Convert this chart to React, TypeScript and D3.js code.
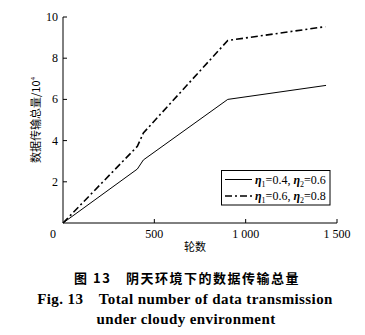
import React from "react";
import * as d3 from "d3";

const xTicks = [0, 500, 1000, 1500];
const yTicks = [0, 2, 4, 6, 8, 10];
const seriesA = [
  { x: 0, y: 0 },
  { x: 407, y: 2.62 },
  { x: 440, y: 3.06 },
  { x: 902, y: 6.0 },
  { x: 1440, y: 6.68 },
];
const seriesB = [
  { x: 0, y: 0 },
  { x: 407, y: 3.72 },
  { x: 440, y: 4.37 },
  { x: 902, y: 8.86 },
  { x: 1436, y: 9.53 },
];
const legendA = ["0.4", "0.6"];
const legendB = ["0.6", "0.8"];

export default function App() {
  const W = 365, H = 335;
  const x = d3.scaleLinear().domain([0, 1500]).range([63, 337]);
  const y = d3.scaleLinear().domain([0, 10]).range([223, 17]);
  const line = d3.line<{ x: number; y: number }>().x(d => x(d.x)).y(d => y(d.y));
  const serif = "'Liberation Serif', 'Times New Roman', serif";
  const cjk = "'Noto Sans CJK SC', sans-serif";
  const fmt = (v: number) => (v >= 1000 ? `${Math.floor(v / 1000)} ${String(v % 1000).padStart(3, "0")}` : String(v));

  const legendItem = (vals: string[], yy: number, dash?: string, sw = 1) => (
    <g>
      <line x1={225} x2={252} y1={yy} y2={yy} stroke="#000" strokeWidth={sw} strokeDasharray={dash} />
      <text x={255} y={yy + 4} fontFamily={serif} fontSize={12}>
        <tspan fontStyle="italic" fontWeight="bold">η</tspan>
        <tspan fontSize={8} dy={3}>1</tspan>
        <tspan dy={-3}>={vals[0]}, </tspan>
        <tspan fontStyle="italic" fontWeight="bold">η</tspan>
        <tspan fontSize={8} dy={3}>2</tspan>
        <tspan dy={-3}>={vals[1]}</tspan>
      </text>
    </g>
  );

  return (
    <svg width={W} height={H} style={{ position: "absolute", left: 0, top: 0, background: "#fff" }}>
      <rect width={W} height={H} fill="#fff" />
      {/* axes */}
      <line x1={x(0)} x2={x(0)} y1={y(0)} y2={y(10)} stroke="#000" strokeWidth={1} />
      <line x1={x(0)} x2={x(1500)} y1={y(0)} y2={y(0)} stroke="#000" strokeWidth={1} />
      {yTicks.map(t => (
        <g key={"y" + t}>
          {t > 0 && <line x1={x(0)} x2={x(0) + 4} y1={y(t)} y2={y(t)} stroke="#000" />}
          {t > 0 && (
            <text x={58} y={y(t) + 4} textAnchor="end" fontFamily={serif} fontSize={12}>{t}</text>
          )}
        </g>
      ))}
      {xTicks.map(t => (
        <g key={"x" + t}>
          {t > 0 && <line x1={x(t)} x2={x(t)} y1={y(0)} y2={y(0) - 4} stroke="#000" />}
          {t > 0 && (
            <text x={x(t)} y={238} textAnchor="middle" fontFamily={serif} fontSize={12}>{fmt(t)}</text>
          )}
        </g>
      ))}
      <text x={53} y={238} textAnchor="middle" fontFamily={serif} fontSize={12}>0</text>

      {/* series */}
      <path d={line(seriesA) || ""} fill="none" stroke="#000" strokeWidth={1} />
      <path d={line(seriesB) || ""} fill="none" stroke="#000" strokeWidth={1.6} strokeDasharray="7,3,2,3" />

      {/* legend */}
      <rect x={221.5} y={170.5} width={108.5} height={34.5} fill="#fff" stroke="#000" strokeWidth={1} />
      {legendItem(legendA, 179.5)}
      {legendItem(legendB, 196, "7,3,2,3", 1.6)}

      {/* axis labels */}
      <text x={195} y={251} textAnchor="middle" fontFamily={cjk} fontSize={11}>轮数</text>
      <text transform="translate(40,120) rotate(-90)" textAnchor="middle" fontFamily={cjk} fontSize={11}>
        数据传输总量/10<tspan fontFamily={serif} fontSize={7} dy={-5}>4</tspan>
      </text>

      {/* captions */}
      <text x={187} y={283} textAnchor="middle" fontFamily={cjk} fontSize={13} fontWeight="bold" letterSpacing={1.5}>
        图 13{"\u2003"}阴天环境下的数据传输总量
      </text>
      <text x={185} y={304} textAnchor="middle" fontFamily={serif} fontSize={15} fontWeight="bold" letterSpacing={0.4}>
        Fig. 13{"\u2003"}Total number of data transmission
      </text>
      <text x={186} y={324} textAnchor="middle" fontFamily={serif} fontSize={15} fontWeight="bold" letterSpacing={0.4}>
        under cloudy environment
      </text>
    </svg>
  );
}
